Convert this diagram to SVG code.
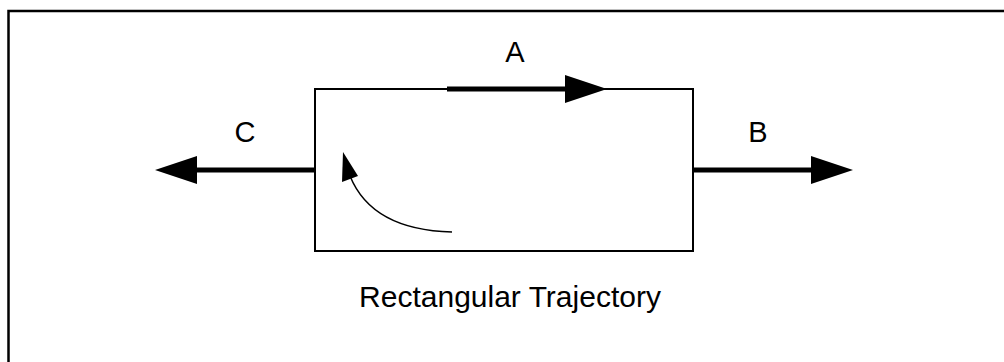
<svg xmlns="http://www.w3.org/2000/svg" width="1004" height="362" viewBox="0 0 1004 362">
<style>
.lbl{font-family:"Liberation Sans",Arial,sans-serif;font-size:29px;fill:#000;text-anchor:middle}
.cap{font-size:30px}
.thick{stroke:#000;stroke-width:5;fill:none}
</style>
<defs>
<marker id="head" markerUnits="userSpaceOnUse" markerWidth="44" markerHeight="30" refX="1" refY="14" orient="auto" overflow="visible">
<polygon points="0,0 42,14 0,28" fill="#000"/>
</marker>
</defs>
<rect width="1004" height="362" fill="#fff"/>
<g id="frame"><path d="M8.5,372 V11 H1014" fill="none" stroke="#000" stroke-width="2.5"/></g>
<g id="rect"><rect x="315" y="89" width="378" height="162" fill="none" stroke="#000" stroke-width="2"/></g>
<g id="connectors">
<line class="thick" x1="447" y1="89" x2="566" y2="89" marker-end="url(#head)"/>
<line class="thick" x1="693" y1="170" x2="812" y2="170" marker-end="url(#head)"/>
<line class="thick" x1="315" y1="170" x2="196" y2="170" marker-end="url(#head)"/>
<path d="M452,232 Q372,230 350,176" fill="none" stroke="#000" stroke-width="1.5"/>
<polygon points="343,152 358,176 342,182" fill="#000"/>
</g>
<g id="labels">
<text class="lbl" x="515" y="62">A</text>
<text class="lbl" x="758" y="142">B</text>
<text class="lbl" x="245" y="142">C</text>
<text class="lbl cap" x="510" y="307">Rectangular Trajectory</text>
</g>
</svg>
